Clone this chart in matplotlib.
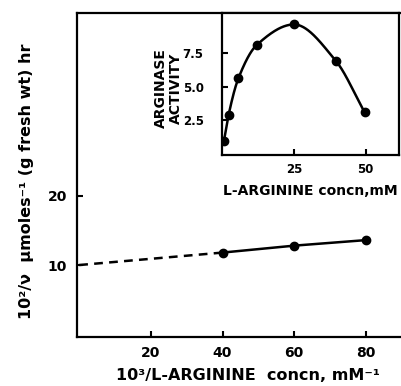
import numpy as np
import matplotlib
matplotlib.use("Agg")
import matplotlib.pyplot as plt

# Main plot (double reciprocal)
main_x = [40, 60, 80]
main_y = [11.8, 12.8, 13.6]
extrap_x = [0, 40]
extrap_y = [10.0, 11.8]
main_xticks = [20, 40, 60, 80]
main_yticks = [10, 20]

# Inset (activity vs concentration)
ins_x = [0.6, 2.2, 5.6, 12.1, 25.0, 39.6, 49.6]
ins_y = [1.0, 2.9, 5.6, 8.1, 9.6, 6.9, 3.1]
ins_xticks = [25, 50]
ins_yticks = [2.5, 5.0, 7.5]


def pchip(x, y, xs):
    x = np.asarray(x, float); y = np.asarray(y, float)
    h = np.diff(x); d = np.diff(y) / h
    n = len(x)
    m = np.zeros(n)
    for k in range(1, n - 1):
        if d[k - 1] * d[k] <= 0:
            m[k] = 0
        else:
            w1 = 2 * h[k] + h[k - 1]; w2 = h[k] + 2 * h[k - 1]
            m[k] = (w1 + w2) / (w1 / d[k - 1] + w2 / d[k])
    m[0] = d[0]; m[-1] = d[-1]
    out = np.empty_like(xs)
    for i, xv in enumerate(xs):
        k = min(np.searchsorted(x, xv) - 1, n - 2); k = max(k, 0)
        t = (xv - x[k]) / h[k]
        h00 = 2*t**3 - 3*t**2 + 1; h10 = t**3 - 2*t**2 + t
        h01 = -2*t**3 + 3*t**2; h11 = t**3 - t**2
        out[i] = h00*y[k] + h10*h[k]*m[k] + h01*y[k+1] + h11*h[k]*m[k+1]
    return out

plt.rcParams['font.family'] = ['DejaVu Sans']
plt.rcParams['font.weight'] = 'bold'

W, H = 401, 386
fig = plt.figure(figsize=(W/100, H/100), dpi=100)

def fx(px): return px / W
def fy(py): return 1 - py / H

ax = fig.add_axes([fx(76.7), fy(336.7), 1 - fx(76.7), fy(13) - fy(336.7)])
ax.plot(extrap_x, extrap_y, color='black', lw=1.8, ls=(0, (3.5, 2.5)))
ax.plot(main_x, main_y, color='black', lw=1.8, marker='o', ms=6)
ax.set_xlim(-0.7, 89.8)
ax.set_ylim(-0.35, 46.4)
ax.set_xticks(main_xticks)
ax.set_yticks(main_yticks)
ax.tick_params(direction='in', length=4, width=1.5, labelsize=10, pad=7)
for lab in ax.get_xticklabels() + ax.get_yticklabels():
    lab.set_fontweight('bold')
for s in ['left', 'bottom', 'top']:
    ax.spines[s].set_linewidth(1.6)
ax.spines['right'].set_visible(False)

fig.text(fx(248), fy(376), "10³/L-ARGININE  concn, mM⁻¹", ha='center', va='center',
         fontsize=11.5, fontweight='bold')
fig.text(fx(27), fy(181), "10²/ν  μmoles⁻¹ (g fresh wt) hr", ha='center', va='center',
         rotation=90, fontsize=11.5, fontweight='bold')

# Inset
ai = fig.add_axes([fx(221.7), fy(155), fx(399) - fx(221.7), fy(13) - fy(155)])
xs = np.linspace(ins_x[0], ins_x[-1], 300)
ai.plot(xs, pchip(ins_x, ins_y, xs), color='black', lw=1.8)
ai.plot(ins_x, ins_y, ls='none', marker='o', ms=6, color='black')
ai.set_xlim(-0.2, 61.6)
ai.set_ylim(-0.07, 10.45)
ai.set_xticks(ins_xticks)
ai.set_yticks(ins_yticks)
ai.set_yticklabels(['2.5', '5.0', '7.5'])
ai.tick_params(direction='in', length=4, width=1.5, labelsize=8.5)
ai.tick_params(axis='y', pad=13)
ai.tick_params(axis='x', pad=6)
for lab in ai.get_xticklabels() + ai.get_yticklabels():
    lab.set_fontweight('bold')
for s in ai.spines.values():
    s.set_linewidth(1.6)

fig.text(fx(168.5), fy(88), "ARGINASE\nACTIVITY", ha='center', va='center',
         rotation=90, fontsize=10, fontweight='bold', linespacing=1.1)
fig.text(fx(223), fy(191), "L-ARGININE concn,mM", ha='left', va='center',
         fontsize=10, fontweight='bold')

fig.savefig('out.png', dpi=100)
